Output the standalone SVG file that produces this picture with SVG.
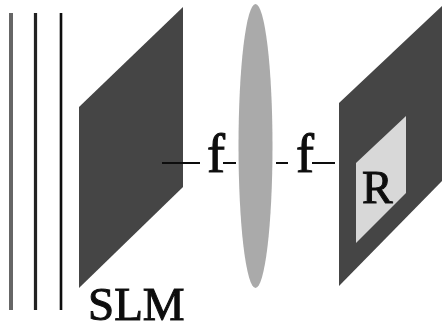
<svg xmlns="http://www.w3.org/2000/svg" width="442" height="331" viewBox="0 0 442 331">
<defs><filter id="soft" x="-5%" y="-5%" width="110%" height="110%"><feGaussianBlur stdDeviation="0.6"/></filter></defs>
<style>
.l{stroke:#111;stroke-width:2.2;fill:none}
.t{font-family:"Liberation Serif",serif;fill:#111;stroke:#111;stroke-width:1}
.d{fill:#444}
</style>
<rect width="442" height="331" fill="#fff"/>
<g filter="url(#soft)">
<g id="beam"><path d="M11 13V310" fill="none" stroke="#666" stroke-width="4"/><path d="M35.500 13V310" fill="none" stroke="#222" stroke-width="3.200"/><path d="M61 13V310" fill="none" stroke="#111" stroke-width="2.600"/></g>
<g id="slm"><polygon class="d" points="79,107 183,7 183,187 79,288"/><text class="t" x="88" y="320" font-size="47">SLM</text></g>
<g id="lens"><ellipse cx="255.500" cy="146" rx="17" ry="142" fill="#aaa"/></g>
<g id="receiver"><polygon class="d" points="339,103 442,6 442,181 339,286"/><polygon points="356,163 406,116 406,193 356,243" fill="#d8d8d8"/><text class="t" x="362" y="203" font-size="46">R</text></g>
<g id="connectors"><path class="l" d="M162 163H200M223 163H236M276 163H288M312 163H335"/></g>
<g id="labels"><text class="t" x="207" y="172" font-size="54">f</text><text class="t" x="296" y="172" font-size="54">f</text></g>
</g>
</svg>
